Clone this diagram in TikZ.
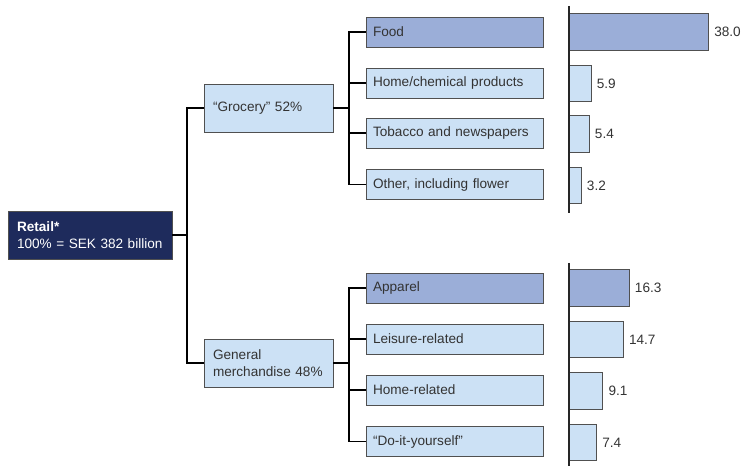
\documentclass[tikz,border=0pt]{standalone}
\usepackage{fontspec}
\setmainfont{Liberation Sans}
\definecolor{navy}{HTML}{1E2B5C}
\definecolor{darkbar}{HTML}{9BAED8}
\definecolor{lightbar}{HTML}{CCE1F5}
\definecolor{txt}{HTML}{333333}
\definecolor{edge}{HTML}{505050}
\begin{document}
\begin{tikzpicture}[x=0.75pt,y=-0.75pt,
  every node/.style={font=\fontsize{10.2}{12.5}\selectfont, text=txt},
  box/.style={draw=edge, line width=0.7pt, fill=lightbar, align=left, inner ysep=0pt},
  midbox/.style={box, minimum width=96.75pt, minimum height=36pt, text width=83.25pt, inner xsep=6.75pt},
  leaf/.style={box, minimum width=132.75pt, minimum height=22.5pt, text width=122.25pt, inner xsep=5.25pt},
  dark/.style={fill=darkbar},
  bar/.style={draw=edge, line width=0.7pt, fill=lightbar, anchor=west, minimum height=27.5pt, inner sep=0pt},
  val/.style={anchor=west, inner xsep=3.75pt},
  conn/.style={draw=black, line width=1.1pt},
  axis/.style={draw=black!85, line width=1.9pt}]
\useasboundingbox (0,0) rectangle (742,466);
% root
\node[box, fill=navy, text=white, minimum width=123pt, minimum height=36pt, text width=109.5pt, inner xsep=6.75pt] (retail) at (90,235) {\textbf{Retail*}\\100\% = SEK 382 billion};
% level 2
\node[midbox] (groc) at (268.5,108) {“Grocery” 52\%};
\node[midbox] (gm) at (268.5,363) {General\\merchandise 48\%};
% leaves
\node[leaf, dark] (food) at (454.5,32) {Food};
\node[leaf] (home) at (454.5,83) {Home/chemical products};
\node[leaf] (tob) at (454.5,133) {Tobacco and newspapers};
\node[leaf] (oth) at (454.5,184.5) {Other, including flower};
\node[leaf, dark] (app) at (454.5,288) {Apparel};
\node[leaf] (leis) at (454.5,339) {Leisure-related};
\node[leaf] (hrel) at (454.5,390) {Home-related};
\node[leaf] (diy) at (454.5,441.5) {“Do-it-yourself”};
% connectors
\coordinate (tr) at (187,235);
\coordinate (sg) at (349,108);
\coordinate (sm) at (349,363);
\draw[conn] (retail.east) -- (tr);
\draw[conn] (tr) |- (groc.west);
\draw[conn] (tr) |- (gm.west);
\draw[conn] (groc.east) -- (sg);
\draw[conn] (sg) |- (food.west);
\draw[conn] (sg) |- (home.west);
\draw[conn] (sg) |- (tob.west);
\draw[conn] (sg) |- (oth.west);
\draw[conn] (gm.east) -- (sm);
\draw[conn] (sm) |- (app.west);
\draw[conn] (sm) |- (leis.west);
\draw[conn] (sm) |- (hrel.west);
\draw[conn] (sm) |- (diy.west);
% bars
\node[bar, fill=darkbar, minimum width=104.3pt] (b1) at (569,32) {};
\node[bar, minimum width=16.2pt] (b2) at (569,83.5) {};
\node[bar, minimum width=14.8pt] (b3) at (569,134) {};
\node[bar, minimum width=8.8pt] (b4) at (569,185.5) {};
\node[bar, fill=darkbar, minimum width=44.8pt] (b5) at (569,288) {};
\node[bar, minimum width=40.4pt] (b6) at (569,339.5) {};
\node[bar, minimum width=25pt] (b7) at (569,391) {};
\node[bar, minimum width=20.3pt] (b8) at (569,442.5) {};
\node[val] (v1) at (b1.east) {38.0};
\node[val] (v2) at (b2.east) {5.9};
\node[val] (v3) at (b3.east) {5.4};
\node[val] (v4) at (b4.east) {3.2};
\node[val] (v5) at (b5.east) {16.3};
\node[val] (v6) at (b6.east) {14.7};
\node[val] (v7) at (b7.east) {9.1};
\node[val] (v8) at (b8.east) {7.4};
% axes
\coordinate (a1t) at (569,6);
\coordinate (a1b) at (569,213);
\coordinate (a2t) at (569,263);
\coordinate (a2b) at (569,466);
\draw[axis] (a1t) -- (a1b);
\draw[axis] (a2t) -- (a2b);
\end{tikzpicture}
\end{document}
